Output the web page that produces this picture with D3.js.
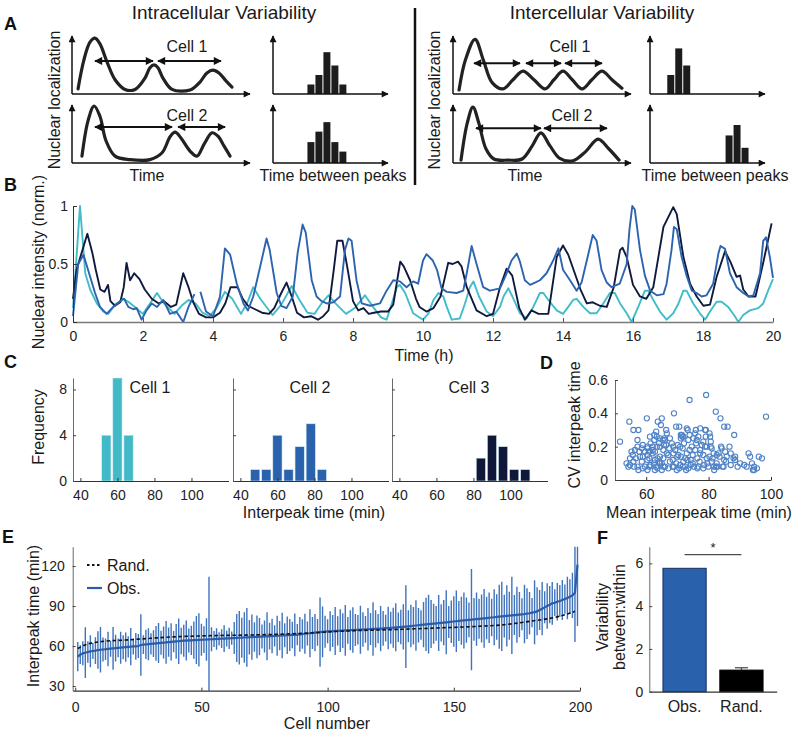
<!DOCTYPE html>
<html><head><meta charset="utf-8">
<script src="https://cdn.jsdelivr.net/npm/d3@7"></script>
<style>
body{margin:0;background:#fff}
svg{display:block}
</style>
</head><body>
<svg id="fig" width="796" height="733"></svg>
<script>
// ---------------- DATA ----------------
// Panel A (schematic): curves as [time(0-100), level(0-1)]
const aIntraCell1 = [[3.4,0.09],[6.7,0.6],[10.1,0.91],[12.9,0.98],[15.7,0.88],[19.7,0.56],[24.2,0.25],[29.8,0.08],[35.4,0.08],[41,0.28],[43.8,0.46],[46.1,0.51],[48.3,0.46],[51.1,0.28],[56.2,0.08],[66.3,0.07],[71.9,0.21],[75.8,0.37],[79.2,0.42],[82.6,0.37],[86.5,0.23],[89.9,0.12]];
const aIntraCell2 = [[5.6,0.12],[9,0.74],[12.4,1.0],[15.7,0.82],[19.1,0.39],[24.2,0.12],[32.6,0.06],[43.8,0.06],[50.6,0.18],[55.1,0.46],[57.9,0.54],[61.2,0.44],[66.3,0.21],[70.2,0.12],[74.2,0.33],[78.7,0.53],[82,0.47],[85.4,0.3],[88.8,0.12]];
const aInterCell1 = [[3.4,0.07],[7,0.6],[12.4,0.96],[17,0.6],[22,0.2],[28.1,0.09],[33.7,0.25],[39.3,0.40],[45.5,0.25],[51.7,0.09],[56.7,0.25],[61.8,0.40],[67,0.25],[72.5,0.09],[78,0.25],[83.7,0.40],[89.3,0.25],[94.9,0.1]];
const aInterCell2 = [[4.5,0.05],[8,0.7],[11.2,0.98],[14.5,0.7],[18.5,0.25],[23,0.07],[31,0.05],[38.8,0.07],[44.5,0.3],[49.4,0.53],[54.5,0.3],[60,0.08],[67.4,0.04],[74.5,0.2],[81.5,0.42],[87.5,0.25],[93.3,0.05]];
// arrows: [from, to, level]
const aIntraArrows1 = [[12.9,45.5,0.58],[48.3,83.7,0.58]];
const aIntraArrows2 = [[12.9,56.2,0.63],[59.6,86,0.63]];
const aInterArrows1 = [[11.8,37.6,0.54],[41,60.7,0.54],[62.9,83.7,0.54]];
const aInterArrows2 = [[12.9,49.4,0.61],[51.1,86.5,0.61]];
// schematic histograms: bin starts and heights
const aIntraBins = [4.25,5.25,6.25,7.25,8.25];
const aIntraHist1 = [1,2,4.4,3,1];
const aIntraHist2 = [2.2,3.3,4.3,2.2,1.2];
const aInterBins1 = [2.1,3.1,4.1];
const aInterHist1 = [2,4.8,3];
const aInterBins2 = [9.4,10.4,11.4];
const aInterHist2 = [2.9,4,1.6];

// Panel B: nuclear intensity traces [time (h), value]
const bNavy = [[0,0.2],[0.1,0.45],[0.25,0.6],[0.41,0.76],[0.55,0.6],[0.65,0.45],[0.78,0.28],[0.9,0.26],[1.0,0.32],[1.07,0.18],[1.2,0.14],[1.35,0.17],[1.45,0.3],[1.53,0.51],[1.63,0.36],[1.75,0.42],[1.9,0.37],[2.05,0.28],[2.25,0.2],[2.45,0.16],[2.6,0.18],[2.8,0.13],[2.95,0.15],[3.15,0.42],[3.3,0.3],[3.45,0.16],[3.6,0.07],[3.8,0.04],[4.0,0.04],[4.2,0.08],[4.35,0.16],[4.5,0.3],[4.7,0.3],[4.85,0.2],[5.0,0.14],[5.2,0.11],[5.4,0.08],[5.6,0.07],[5.75,0.12],[5.95,0.25],[6.1,0.34],[6.25,0.22],[6.4,0.08],[6.6,0.04],[6.8,0.05],[7.0,0.02],[7.15,0.05],[7.3,0.1],[7.45,0.45],[7.55,0.7],[7.7,0.7],[7.85,0.45],[8.0,0.18],[8.15,0.1],[8.3,0.12],[8.45,0.07],[8.6,0.08],[8.8,0.09],[9.0,0.09],[9.15,0.15],[9.35,0.52],[9.45,0.48],[9.63,0.36],[9.8,0.2],[9.9,0.13],[10.1,0.09],[10.3,0.12],[10.5,0.22],[10.72,0.51],[10.85,0.5],[11.0,0.52],[11.1,0.48],[11.25,0.3],[11.53,0.1],[11.82,0.05],[12.0,0.07],[12.2,0.3],[12.39,0.46],[12.55,0.4],[12.75,0.12],[12.91,0.02],[13.1,0.1],[13.3,0.07],[13.58,0.07],[13.82,0.56],[14.0,0.66],[14.15,0.58],[14.5,0.28],[14.68,0.16],[14.85,0.17],[15.05,0.14],[15.25,0.13],[15.45,0.3],[15.63,0.62],[15.7,0.64],[15.82,0.56],[16.0,0.32],[16.2,0.22],[16.38,0.2],[16.58,0.3],[16.87,0.82],[17.15,0.99],[17.25,0.93],[17.44,0.56],[17.63,0.33],[17.82,0.22],[18.01,0.14],[18.2,0.15],[18.39,0.39],[18.63,0.61],[18.78,0.52],[18.96,0.39],[19.06,0.4],[19.15,0.28],[19.3,0.22],[19.5,0.22],[19.72,0.51],[19.96,0.85]];
const bBlue = [[0,0.05],[0.15,0.5],[0.3,0.58],[0.49,0.39],[0.63,0.25],[0.77,0.13],[0.96,0.07],[1.15,0.13],[1.39,0.19],[1.46,0.2],[1.58,0.13],[1.72,0.11],[1.82,0.12],[1.96,0.02],[2.1,0.1],[2.25,0.16],[2.4,0.13],[2.58,0.19],[2.77,0.07],[2.95,0.09],[3.15,0.0],[3.3,0.13],[3.47,0.24],null,[3.64,0.26],[3.8,0.09],[4.0,0.05],[4.2,0.22],[4.34,0.635],[4.49,0.58],[4.68,0.33],[4.87,0.16],[5.0,0.1],[5.15,0.22],[5.35,0.48],[5.53,0.72],[5.62,0.62],[5.82,0.25],[5.95,0.14],[6.1,0.12],[6.28,0.22],[6.42,0.6],[6.56,0.84],[6.65,0.77],[6.82,0.36],[6.96,0.22],[7.1,0.18],[7.25,0.16],[7.44,0.17],[7.63,0.22],[7.77,0.62],[7.87,0.72],[7.96,0.7],[8.1,0.36],[8.25,0.16],[8.49,0.14],[8.77,0.16],[8.96,0.27],[9.15,0.36],[9.34,0.35],[9.53,0.3],[9.72,0.35],[9.86,0.33],[10.0,0.53],[10.1,0.585],[10.28,0.53],[10.4,0.45],[10.53,0.29],[10.68,0.26],[10.96,0.25],[11.15,0.27],[11.25,0.42],[11.39,0.655],[11.53,0.5],[11.72,0.3],[11.91,0.27],[12.2,0.29],[12.39,0.42],[12.53,0.53],[12.68,0.59],[12.77,0.52],[12.91,0.36],[13.06,0.32],[13.2,0.34],[13.34,0.36],[13.53,0.42],[13.72,0.53],[13.87,0.635],[14.0,0.45],[14.2,0.36],[14.39,0.27],[14.53,0.34],[14.68,0.53],[14.85,0.75],[14.96,0.7],[15.1,0.45],[15.25,0.34],[15.39,0.3],[15.62,0.33],[15.82,0.5],[15.9,0.8],[15.98,1.0],[16.05,0.97],[16.2,0.62],[16.34,0.4],[16.49,0.27],[16.68,0.23],[16.87,0.24],[16.96,0.33],[17.1,0.62],[17.17,0.82],[17.25,0.8],[17.39,0.56],[17.53,0.4],[17.68,0.27],[17.82,0.25],[17.96,0.22],[18.1,0.23],[18.29,0.33],[18.44,0.59],[18.5,0.655],[18.63,0.63],[18.77,0.42],[18.96,0.3],[19.15,0.25],[19.3,0.22],[19.44,0.23],[19.63,0.42],[19.72,0.7],[19.8,0.73],[19.91,0.56],[20.0,0.38]];
const bCyan = [[0,0.12],[0.2,1.0],[0.35,0.42],[0.49,0.28],[0.68,0.16],[0.87,0.09],[1.01,0.07],[1.2,0.15],[1.44,0.2],[1.6,0.17],[1.8,0.12],[2.0,0.07],[2.2,0.16],[2.4,0.25],[2.6,0.16],[2.9,0.07],[3.1,0.14],[3.3,0.19],[3.5,0.16],[3.7,0.08],[3.9,0.05],[4.1,0.12],[4.34,0.26],[4.55,0.2],[4.8,0.07],[5.0,0.18],[5.15,0.3],[5.35,0.2],[5.7,0.06],[5.95,0.15],[6.25,0.31],[6.45,0.2],[6.7,0.08],[6.9,0.07],[7.1,0.16],[7.3,0.23],[7.5,0.16],[7.8,0.07],[8.05,0.12],[8.34,0.23],[8.6,0.12],[8.8,0.04],[8.96,0.02],[9.1,0.15],[9.25,0.3],[9.34,0.32],[9.49,0.25],[9.72,0.075],[10.0,0.02],[10.15,0.07],[10.3,0.19],[10.44,0.25],[10.58,0.22],[10.68,0.13],[10.82,0.02],[11.05,0.03],[11.2,0.16],[11.34,0.3],[11.44,0.35],[11.6,0.22],[11.82,0.09],[12.0,0.05],[12.2,0.13],[12.3,0.22],[12.44,0.29],[12.6,0.19],[12.77,0.075],[12.96,0.03],[13.15,0.13],[13.34,0.25],[13.44,0.25],[13.58,0.19],[13.82,0.1],[14.0,0.07],[14.15,0.13],[14.29,0.19],[14.39,0.2],[14.58,0.13],[14.77,0.075],[14.96,0.075],[15.15,0.16],[15.34,0.25],[15.48,0.25],[15.63,0.16],[15.82,0.075],[15.96,0.0],[16.15,0.13],[16.34,0.27],[16.44,0.27],[16.58,0.19],[16.77,0.09],[16.96,0.02],[17.15,0.075],[17.3,0.16],[17.44,0.27],[17.53,0.27],[17.72,0.16],[17.91,0.075],[18.06,0.02],[18.2,0.09],[18.39,0.175],[18.53,0.175],[18.72,0.13],[18.91,0.05],[19.01,0.0],[19.15,0.06],[19.34,0.1],[19.58,0.12],[19.72,0.16],[19.86,0.27],[20.0,0.37]];
const bTicksX = [0,2,4,6,8,10,12,14,16,18,20];
const bTicksY = [0,0.5,1];

// Panel C: histograms (bin centre in min, count)
const cCell1Bins = [54,60,66];
const cCell1Counts = [4,9,4];
const cCell2Bins = [48,54,60,66,72,78,84];
const cCell2Counts = [1,1,4,1,3,5,1];
const cCell3Bins = [84,90,96,102,108];
const cCell3Counts = [2,4,3,1,1];
const cTicksX = [40,60,80,100];
const cTicksY = [0,4,8];

// Panel D: scatter (mean interpeak time, CV)
const dMean = [79.2,73.9,68.9,82.3,60.2,65.0,83.8,98.4,54.6,63.7,64.7,69.6,70.6,85.0,86.1,77.3,78.9,75.9,79.1,55.9,57.5,73.0,73.3,63.2,66.4,75.7,80.3,62.6,66.6,73.9,71.1,71.4,71.6,76.7,88.2,61.2,63.4,64.4,65.8,67.6,71.1,71.9,75.1,79.1,80.5,57.2,62.6,65.3,66.0,73.5,76.2,78.3,80.7,76.0,61.4,64.1,65.7,66.4,68.2,70.1,72.1,77.8,79.4,51.6,57.2,58.9,60.4,62.1,64.4,68.7,70.9,74.6,78.9,80.7,86.7,56.4,58.6,60.4,62.1,63.4,65.5,67.4,69.3,71.7,73.9,75.7,77.3,81.0,84.0,84.2,55.3,57.8,59.6,61.0,62.8,66.6,68.7,73.0,77.3,81.6,83.2,85.3,87.1,55.7,58.0,60.4,62.1,64.4,67.1,70.3,74.9,78.3,80.3,82.6,85.8,92.8,93.3,54.8,56.7,58.9,61.0,62.8,63.6,65.5,68.5,70.0,71.1,72.5,74.3,76.4,79.4,81.3,83.5,85.0,88.0,88.5,96.1,97.1,53.7,55.9,58.6,60.4,62.5,64.2,65.0,67.6,69.6,71.9,73.2,74.9,77.1,79.6,81.0,82.6,85.6,88.5,90.1,93.9,54.8,57.2,59.6,61.4,63.2,64.4,66.0,68.5,70.9,72.5,74.3,76.7,78.6,81.8,84.5,87.1,91.4,92.2,94.6,95.5,54.3,56.1,58.9,61.0,63.6,65.5,67.1,68.9,70.6,71.7,73.5,75.3,78.3,79.9,82.4,84.8,89.3,57.5,60.4,62.8,65.0,69.8,72.8,76.4,81.8,82.8,94.2,94.6];
const dCV = [0.51,0.48,0.40,0.41,0.37,0.37,0.37,0.38,0.35,0.35,0.33,0.32,0.32,0.32,0.32,0.31,0.30,0.30,0.30,0.30,0.30,0.31,0.30,0.29,0.30,0.28,0.28,0.27,0.28,0.27,0.27,0.27,0.26,0.26,0.27,0.26,0.26,0.25,0.25,0.25,0.25,0.26,0.25,0.26,0.26,0.24,0.24,0.24,0.24,0.24,0.24,0.23,0.23,0.22,0.22,0.22,0.21,0.21,0.22,0.21,0.22,0.21,0.20,0.23,0.20,0.21,0.20,0.20,0.20,0.20,0.20,0.20,0.20,0.20,0.20,0.18,0.19,0.19,0.18,0.20,0.18,0.19,0.18,0.19,0.18,0.18,0.18,0.19,0.20,0.19,0.17,0.17,0.17,0.17,0.17,0.16,0.16,0.16,0.16,0.16,0.16,0.17,0.16,0.15,0.14,0.15,0.16,0.14,0.15,0.15,0.15,0.15,0.14,0.15,0.14,0.16,0.14,0.13,0.13,0.14,0.13,0.12,0.13,0.13,0.12,0.14,0.14,0.13,0.12,0.13,0.13,0.13,0.14,0.12,0.13,0.14,0.14,0.13,0.10,0.11,0.11,0.12,0.10,0.11,0.10,0.11,0.10,0.11,0.12,0.10,0.11,0.10,0.11,0.10,0.11,0.12,0.10,0.10,0.09,0.08,0.08,0.09,0.08,0.10,0.08,0.08,0.09,0.08,0.09,0.08,0.09,0.08,0.08,0.09,0.09,0.08,0.08,0.07,0.08,0.08,0.07,0.08,0.07,0.08,0.07,0.08,0.07,0.08,0.07,0.08,0.07,0.08,0.08,0.08,0.08,0.06,0.06,0.06,0.06,0.06,0.06,0.07,0.06,0.08,0.06,0.06];
const dTicksX = [60,80,100];
const dTicksY = [0,0.2,0.4,0.6];

// Panel E: per-cell mean interpeak time (sorted) and SD, cells 1..199
const eObsMean = [52,53.5,54.5,55,55.5,56,56.3,56.6,57,57.2,57.4,57.6,57.8,58,58.2,58.4,58.6,58.8,59,59.2,
59.4,59.5,59.7,59.8,60,60.8,61,61.2,61.4,61.6,61.8,62,62.2,62.4,62.6,62.7,62.9,63.1,63.3,63.5,
63.6,63.8,64,64.1,64.2,64.3,64.4,64.5,64.6,64.7,64.8,64.9,65,65.1,65.2,65.3,65.4,65.5,65.6,65.7,
65.8,65.9,66,66.1,66.2,66.3,66.4,66.5,66.6,66.7,66.8,66.9,67,67.1,67.2,67.3,67.4,67.5,67.6,67.7,
67.8,67.9,68,68.1,68.2,68.3,68.4,68.6,68.8,69,69.2,69.4,69.6,69.8,70,70.2,70.4,70.6,70.8,71,
71.1,71.2,71.3,71.4,71.5,71.6,71.7,71.8,71.9,72,72.1,72.2,72.3,72.4,72.5,72.6,72.7,72.8,72.9,73,
73.1,73.2,73.4,73.5,73.7,73.8,74,74.1,74.3,74.4,74.6,74.8,75,75.2,75.4,75.6,75.8,76,76.2,76.4,
76.6,76.8,77,77.2,77.4,77.6,77.8,78,78.2,78.4,78.6,78.8,79,79.2,79.4,79.6,79.8,80,80.2,80.4,
80.6,80.8,81,81.2,81.4,81.6,81.8,82,82.2,82.4,82.6,82.8,83,83.2,83.4,83.6,83.8,84,84.3,84.6,
85,85.4,86,87,88,89,90,91,92,92.5,93.2,93.8,94.5,95.2,96,97,98,100,121];
const eObsSD = [11,7,9,19,8,12,6,10,14,17,9,8,13,6,16,10,7,12,9,11,
8,14,6,10,9,23,7,11,12,8,10,13,15,9,12,16,11,14,8,13,
17,10,12,15,9,11,14,18,20,12,10,16,47,9,6,8,5,7,10,6,
8,5,12,18,20,15,19,22,13,17,11,16,14,9,12,18,10,13,8,15,
11,17,9,14,12,10,16,8,13,11,15,9,18,12,14,10,26,19,12,9,
15,12,18,11,16,13,19,10,15,17,12,11,18,13,10,16,12,20,14,11,
17,13,10,16,12,15,18,11,13,17,31,12,16,14,19,13,11,17,20,22,
18,15,13,21,14,17,24,12,16,19,23,15,18,21,17,13,38,16,20,15,
18,22,16,19,14,21,17,24,26,16,23,18,29,15,21,17,12,22,19,16,
11,24,18,15,20,12,17,14,16,10,14,12,15,11,16,13,17,37,46];
const eRandCells = [1,5,10,20,30,40,50,60,70,80,90,100,110,120,130,140,150,160,170,180,190,195,198];
const eRandMean = [58.2,61.5,63.3,64.5,65.8,67,67.6,68,68.3,68.8,69.5,70.5,71.5,72,72.6,73.3,74,74.8,76,78.5,81.5,84,86];
const eTicksX = [0,50,100,150,200];
const eTicksY = [30,60,90,120];

// Panel F
const fGroups = ["Obs.","Rand."];
const fValues = [5.77,1.01];
const fErr = [0,0.11];
const fTicksY = [0,2,4,6];

// ---------------- DRAWING ----------------
const FONT = '"Liberation Sans", Arial, Helvetica, sans-serif';
const svg = d3.select("#fig");
const TXT = "#1a1a1a";

const defs = svg.append("defs");
function marker(id, w, h){
  defs.append("marker").attr("id",id).attr("viewBox","0 0 10 10")
    .attr("refX",9).attr("refY",5).attr("markerWidth",w).attr("markerHeight",h)
    .attr("markerUnits","userSpaceOnUse").attr("orient","auto-start-reverse")
    .append("path").attr("d","M0,0L10,5L0,10z").attr("fill","#111");
}
marker("axhead",9,7);
marker("dblhead",9,8);

function text(x,y,s,o={}){
  const t = svg.append("text").attr("x",x).attr("y",y).text(s)
    .attr("font-family",FONT).attr("font-size",o.size||16)
    .attr("fill",o.fill||TXT).attr("text-anchor",o.anchor||"start");
  if(o.weight) t.attr("font-weight",o.weight);
  if(o.rotate!=null) t.attr("transform",`rotate(${o.rotate},${x},${y})`);
  return t;
}
function panelLabel(x,y,s){ text(x,y,s,{size:18,weight:"bold",fill:"#111"}); }

function styleAxis(g,color,width,fs){
  g.select(".domain").attr("stroke",color).attr("stroke-width",width);
  g.selectAll(".tick line").attr("stroke",color).attr("stroke-width",1);
  g.selectAll(".tick text").attr("font-size",fs||14).attr("font-family",FONT).attr("fill","#222");
}

// ===== Panel A =====
panelLabel(4,30,"A");
text(224,19,"Intracellular Variability",{size:19,anchor:"middle"});
text(602,19,"Intercellular Variability",{size:19,anchor:"middle"});
svg.append("line").attr("x1",415).attr("x2",415).attr("y1",8).attr("y2",185)
  .attr("stroke","#111").attr("stroke-width",2.5);

function schematic(x0, y0, curve, arrows, label, labelX){
  const xs = d3.scaleLinear([0,100],[x0,x0+178]);
  const ys = d3.scaleLinear([0,1],[y0,y0-57]);
  const g = svg.append("g");
  g.append("line").attr("x1",xs(0)).attr("x2",xs(0)).attr("y1",ys(0)).attr("y2",ys(1)-1)
    .attr("stroke","#111").attr("stroke-width",1.5).attr("marker-end","url(#axhead)");
  g.append("line").attr("x1",xs(0)).attr("x2",xs(100)).attr("y1",ys(0)).attr("y2",ys(0))
    .attr("stroke","#111").attr("stroke-width",1.5).attr("marker-end","url(#axhead)");
  g.append("path").datum(curve)
    .attr("d",d3.line().x(d=>xs(d[0])).y(d=>ys(d[1])).curve(d3.curveCatmullRom.alpha(0.5)))
    .attr("fill","none").attr("stroke","#222").attr("stroke-width",3.2).attr("stroke-linecap","round");
  arrows.forEach(a=>{
    g.append("line").attr("x1",xs(a[0])).attr("x2",xs(a[1])).attr("y1",ys(a[2])).attr("y2",ys(a[2]))
      .attr("stroke","#111").attr("stroke-width",2)
      .attr("marker-start","url(#dblhead)").attr("marker-end","url(#dblhead)");
  });
  text(labelX, ys(1)+15, label, {size:16,anchor:"middle"});
}
function schemHist(x0, y0, bins, heights){
  const xs = d3.scaleLinear([0,14.4],[x0,x0+115]);
  const ys = d3.scaleLinear([0,6],[y0,y0-57]);
  const g = svg.append("g");
  g.selectAll("rect").data(bins).join("rect")
    .attr("x",(d)=>xs(d)+0.5).attr("width",xs(1)-xs(0)-1)
    .attr("y",(d,i)=>ys(heights[i])).attr("height",(d,i)=>ys(0)-ys(heights[i]))
    .attr("fill","#1c1c1c");
  g.append("line").attr("x1",xs(0)).attr("x2",xs(0)).attr("y1",ys(0)).attr("y2",ys(6)-1)
    .attr("stroke","#111").attr("stroke-width",1.5).attr("marker-end","url(#axhead)");
  g.append("line").attr("x1",xs(0)).attr("x2",xs(14.4)).attr("y1",ys(0)).attr("y2",ys(0))
    .attr("stroke","#111").attr("stroke-width",1.5).attr("marker-end","url(#axhead)");
}
schematic(72,94,aIntraCell1,aIntraArrows1,"Cell 1",187);
schematic(72,163,aIntraCell2,aIntraArrows2,"Cell 2",187);
schematic(453,94,aInterCell1,aInterArrows1,"Cell 1",570);
schematic(453,163,aInterCell2,aInterArrows2,"Cell 2",572);
schemHist(273,94,aIntraBins,aIntraHist1);
schemHist(273,163,aIntraBins,aIntraHist2);
schemHist(650,94,aInterBins1,aInterHist1);
schemHist(650,163,aInterBins2,aInterHist2);
text(60,100,"Nuclear localization",{size:16,anchor:"middle",rotate:-90});
text(440,100,"Nuclear localization",{size:16,anchor:"middle",rotate:-90});
text(147,181,"Time",{size:16,anchor:"middle"});
text(333,181,"Time between peaks",{size:16,anchor:"middle"});
text(525,181,"Time",{size:16,anchor:"middle"});
text(715,181,"Time between peaks",{size:16,anchor:"middle"});

// ===== Panel B =====
panelLabel(4,191,"B");
const xB = d3.scaleLinear([0,20],[73,773]);
const yB = d3.scaleLinear([0,1],[322,206]);
const lineB = d3.line().defined(d=>d!==null).x(d=>xB(d[0])).y(d=>yB(d[1]));
[[bCyan,"#41bcc8"],[bNavy,"#0f1a3d"],[bBlue,"#2d64b0"]].forEach(([data,col])=>{
  svg.append("path").datum(data).attr("d",lineB).attr("fill","none")
    .attr("stroke",col).attr("stroke-width",1.9).attr("stroke-linejoin","round");
});
const gBx = svg.append("g").attr("transform","translate(0,322)")
  .call(d3.axisBottom(xB).tickValues(bTicksX).tickSizeInner(-4).tickSizeOuter(0).tickPadding(9));
styleAxis(gBx,"#7a7a7a",1.6,14);
gBx.selectAll(".tick line").attr("stroke","#555");
const gBy = svg.append("g").attr("transform","translate(73,0)")
  .call(d3.axisLeft(yB).tickValues(bTicksY).tickFormat(d3.format("")).tickSizeInner(-4).tickSizeOuter(0).tickPadding(5));
styleAxis(gBy,"#333",1,14);
text(44,262,"Nuclear intensity (norm.)",{size:16,anchor:"middle",rotate:-90});
text(424,361,"Time (h)",{size:16,anchor:"middle"});

// ===== Panel C =====
panelLabel(4,368,"C");
const cPanels = [
  {x0:73, bins:cCell1Bins, counts:cCell1Counts, color:"#41b9c6", label:"Cell 1"},
  {x0:233, bins:cCell2Bins, counts:cCell2Counts, color:"#2a62ae", label:"Cell 2"},
  {x0:392, bins:cCell3Bins, counts:cCell3Counts, color:"#0f1838", label:"Cell 3"}
];
cPanels.forEach((p,i)=>{
  const xC = d3.scaleLinear([36,120],[p.x0,p.x0+155.5]);
  const yC = d3.scaleLinear([0,9],[481,378]);
  svg.append("g").selectAll("rect").data(p.bins).join("rect")
    .attr("x",d=>xC(d-2.5)).attr("width",xC(5)-xC(0))
    .attr("y",(d,j)=>yC(p.counts[j])).attr("height",(d,j)=>yC(0)-yC(p.counts[j]))
    .attr("fill",p.color).attr("stroke","#d6ecf3").attr("stroke-width",0.6);
  const gx = svg.append("g").attr("transform","translate(0,481)")
    .call(d3.axisBottom(xC).tickValues(cTicksX).tickSizeInner(-3).tickSizeOuter(0).tickPadding(9));
  styleAxis(gx,"#333",1.2,14);
  const gy = svg.append("g").attr("transform",`translate(${p.x0},0)`)
    .call(d3.axisLeft(yC).tickValues(cTicksY).tickSizeInner(-3).tickSizeOuter(0).tickPadding(6));
  styleAxis(gy,"#444",0.8,14);
  if(i>0) gy.selectAll(".tick text").remove();
  text(p.x0+77, 393, p.label, {size:16,anchor:"middle"});
});
text(44,427,"Frequency",{size:16,anchor:"middle",rotate:-90});
text(314,518,"Interpeak time (min)",{size:16,anchor:"middle"});

// ===== Panel D =====
panelLabel(540,369,"D");
const xD = d3.scaleLinear([50,100],[615,771]);
const yD = d3.scaleLinear([0,0.6],[480,380]);
svg.append("g").selectAll("circle").data(dMean).join("circle")
  .attr("cx",d=>xD(d)).attr("cy",(d,i)=>yD(dCV[i])).attr("r",2.6)
  .attr("fill","none").attr("stroke","#4f82c6").attr("stroke-width",1.1);
const gDx = svg.append("g").attr("transform","translate(0,480)")
  .call(d3.axisBottom(xD).tickValues(dTicksX).tickSizeInner(-3).tickSizeOuter(0).tickPadding(9));
styleAxis(gDx,"#333",1.2,14);
const gDy = svg.append("g").attr("transform","translate(615,0)")
  .call(d3.axisLeft(yD).tickValues(dTicksY).tickFormat(d3.format("")).tickSizeInner(-3).tickSizeOuter(0).tickPadding(7));
styleAxis(gDy,"#444",0.8,14);
text(580,425,"CV interpeak time",{size:16,anchor:"middle",rotate:-90});
text(699,518,"Mean interpeak time (min)",{size:16,anchor:"middle"});

// ===== Panel E =====
panelLabel(2,543,"E");
const xE = d3.scaleLinear([-1,200],[72.7,580]);
const yE = d3.scaleLinear([26.5,134.5],[690.7,546.7]);
defs.append("clipPath").attr("id","clipE").append("rect")
  .attr("x",72.7).attr("y",546.7).attr("width",580-72.7).attr("height",690.7-546.7);
const gE = svg.append("g").attr("clip-path","url(#clipE)");
gE.selectAll("line.eb").data(eObsMean).join("line").attr("class","eb")
  .attr("x1",(d,i)=>xE(i+1)).attr("x2",(d,i)=>xE(i+1))
  .attr("y1",(d,i)=>yE(d-eObsSD[i])).attr("y2",(d,i)=>yE(d+eObsSD[i]))
  .attr("stroke","#3e73bd").attr("stroke-width",1.4);
gE.append("path").datum(eObsMean)
  .attr("d",d3.line().x((d,i)=>xE(i+1)).y(d=>yE(d)))
  .attr("fill","none").attr("stroke","#2a5ca7").attr("stroke-width",2.2);
gE.append("path").datum(eRandMean)
  .attr("d",d3.line().x((d,i)=>xE(eRandCells[i])).y(d=>yE(d)).curve(d3.curveMonotoneX))
  .attr("fill","none").attr("stroke","#111").attr("stroke-width",1.6).attr("stroke-dasharray","3.5,2.5");
const gEx = svg.append("g").attr("transform","translate(0,690.7)")
  .call(d3.axisBottom(xE).tickValues(eTicksX).tickSizeInner(-3).tickSizeOuter(0).tickPadding(11));
styleAxis(gEx,"#333",1.2,14);
const gEy = svg.append("g").attr("transform","translate(72.7,0)")
  .call(d3.axisLeft(yE).tickValues(eTicksY).tickSizeInner(-3).tickSizeOuter(0).tickPadding(8));
styleAxis(gEy,"#444",0.8,14);
text(39,616,"Interpeak time (min)",{size:16,anchor:"middle",rotate:-90});
text(327,729,"Cell number",{size:16,anchor:"middle"});
// legend
svg.append("line").attr("x1",87).attr("x2",101).attr("y1",565).attr("y2",565)
  .attr("stroke","#111").attr("stroke-width",1.8).attr("stroke-dasharray","2.5,2.5");
text(107,571,"Rand.",{size:16});
svg.append("line").attr("x1",87).attr("x2",102).attr("y1",588).attr("y2",588)
  .attr("stroke","#2a5ca7").attr("stroke-width",2.2);
text(107,594,"Obs.",{size:16});

// ===== Panel F =====
panelLabel(597,544,"F");
const xF = d3.scaleBand(fGroups,[649.3,776.7]).paddingInner(0.24).paddingOuter(0.24);
const yF = d3.scaleLinear([0,6.78],[691.7,546.7]);
svg.append("g").selectAll("rect").data(fGroups).join("rect")
  .attr("x",d=>xF(d)).attr("width",xF.bandwidth())
  .attr("y",(d,i)=>yF(fValues[i])).attr("height",(d,i)=>yF(0)-yF(fValues[i]))
  .attr("fill",(d,i)=>i===0?"#2a61ad":"#000").attr("stroke",(d,i)=>i===0?"#12305e":"#000").attr("stroke-width",1);
fGroups.forEach((g,i)=>{
  if(fErr[i]>0){
    const cx = xF(g)+xF.bandwidth()/2;
    svg.append("line").attr("x1",cx).attr("x2",cx).attr("y1",yF(fValues[i])).attr("y2",yF(fValues[i]+fErr[i]))
      .attr("stroke","#444").attr("stroke-width",1.2);
    svg.append("line").attr("x1",cx-6.5).attr("x2",cx+6.5).attr("y1",yF(fValues[i]+fErr[i])).attr("y2",yF(fValues[i]+fErr[i]))
      .attr("stroke","#444").attr("stroke-width",1.2);
  }
});
const gFx = svg.append("g").attr("transform","translate(0,691.7)")
  .call(d3.axisBottom(xF).tickSize(0).tickPadding(6));
styleAxis(gFx,"#333",1.2,16);
gFx.selectAll(".tick text").attr("dy","0.9em");
const gFy = svg.append("g").attr("transform","translate(649.3,0)")
  .call(d3.axisLeft(yF).tickValues(fTicksY).tickFormat(d3.format("d")).tickSizeInner(-3).tickSizeOuter(0).tickPadding(6));
styleAxis(gFy,"#444",0.8,14);
// significance bar
const sigY = 554.7;
svg.append("line").attr("x1",xF("Obs.")+xF.bandwidth()/2).attr("x2",xF("Rand.")+xF.bandwidth()/2)
  .attr("y1",sigY).attr("y2",sigY).attr("stroke","#222").attr("stroke-width",1);
text((xF("Obs.")+xF("Rand.")+xF.bandwidth())/2, sigY-3, "*", {size:13,anchor:"middle"});
text(608,617,"Variability",{size:16,anchor:"middle",rotate:-90});
text(625,617,"between:within",{size:16,anchor:"middle",rotate:-90});
</script>
</body></html>
